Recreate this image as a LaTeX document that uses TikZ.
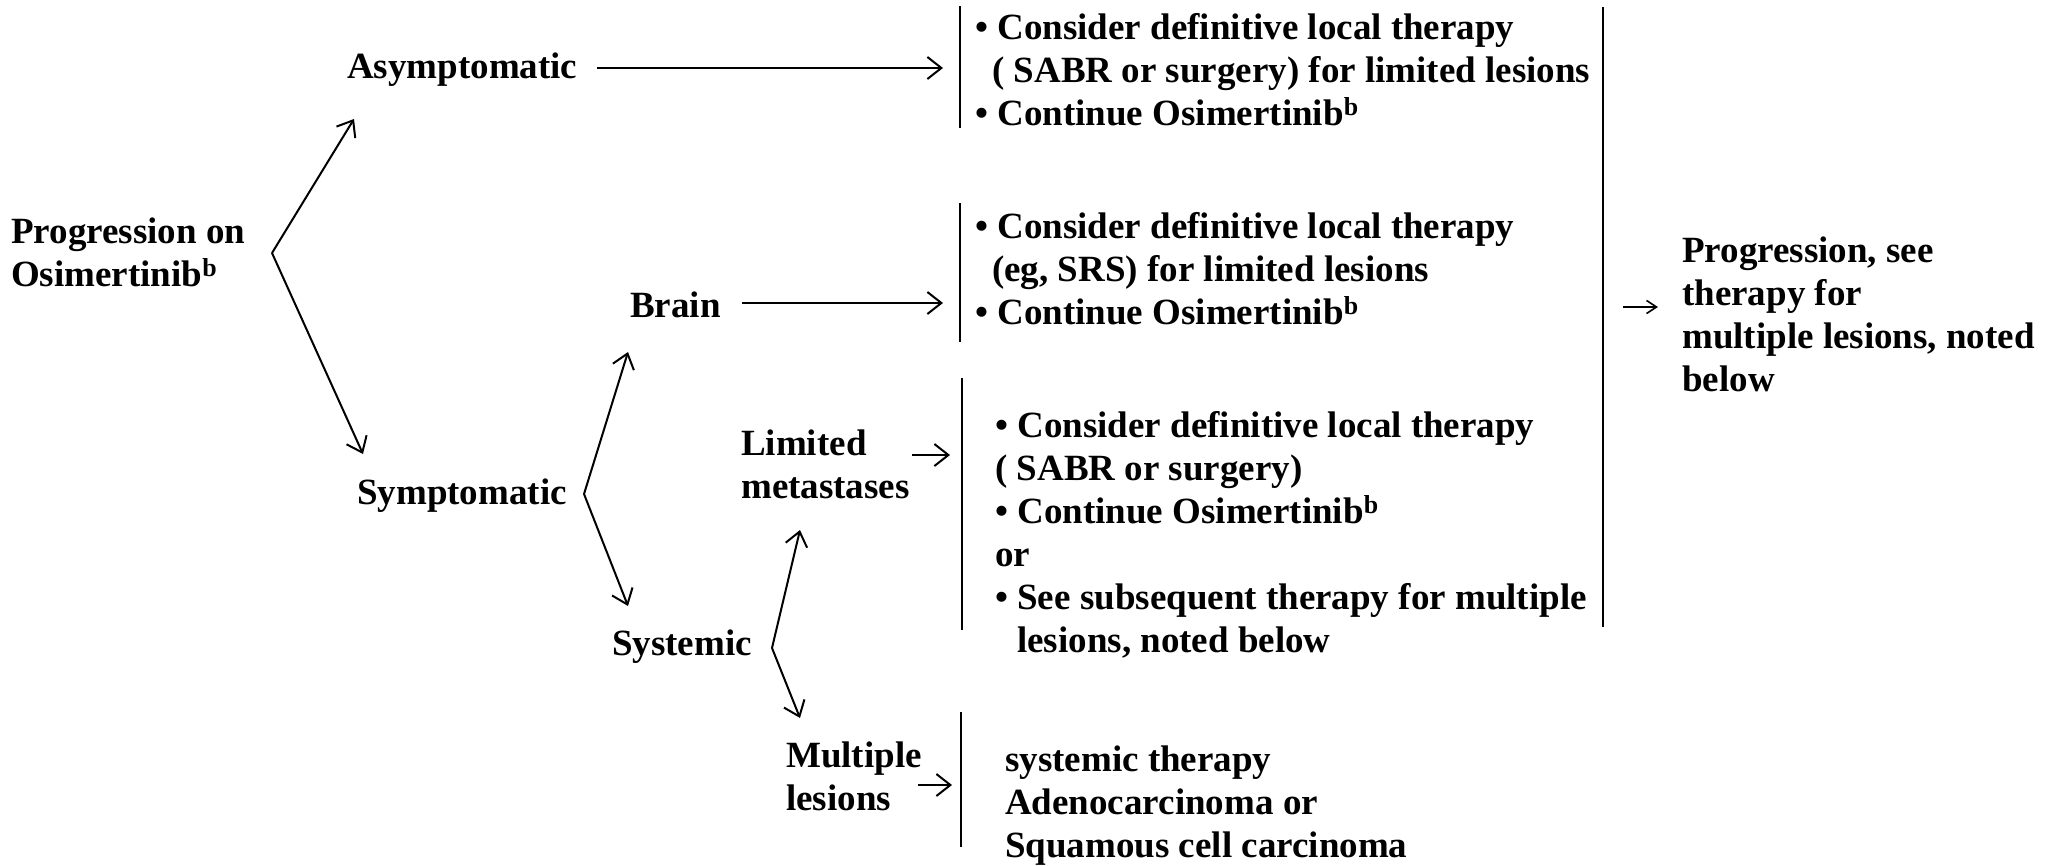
\documentclass[tikz,border=0pt]{standalone}
\usepackage{fontspec}
\setmainfont{Liberation Serif}
\usetikzlibrary{arrows.meta}
\begin{document}
\begin{tikzpicture}[x=1pt,y=-1pt,
  txt/.style={inner sep=0pt, anchor=base west, align=left,
    font=\fontsize{37}{43}\selectfont\bfseries},
  arr/.style={line width=2pt, -{Straight Barb[length=14pt,width=22pt,line width=2pt]}},
  sarr/.style={line width=1.6pt, -{Straight Barb[length=10pt,width=13pt,line width=1.6pt]}},
  bar/.style={line width=1.8pt}]
\useasboundingbox (0,0) rectangle (2058,865);

% decision labels (multi-line nodes are placed by their last baseline)
\node[txt] (prog)  at (11,286)  {Progression on\\Osimertinib\textsuperscript{b}};
\node[txt] (asym)  at (347,78)  {Asymptomatic};
\node[txt] (sympt) at (357,504) {Symptomatic};
\node[txt] (brain) at (630,317) {Brain};
\node[txt] (syst)  at (612,655) {Systemic};
\node[txt] (lim)   at (741,498) {Limited\\metastases};
\node[txt] (mult)  at (786,810) {Multiple\\lesions};

% recommendation blocks
\node[txt] (rec1) at (975,125)
  {• Consider definitive local therapy\\
   \hspace*{17pt}( SABR or surgery) for limited lesions\\
   • Continue Osimertinib\textsuperscript{b}};
\node[txt] (rec2) at (975,324)
  {• Consider definitive local therapy\\
   \hspace*{17pt}(eg, SRS) for limited lesions\\
   • Continue Osimertinib\textsuperscript{b}};
\node[txt] (rec3) at (995,652)
  {• Consider definitive local therapy\\
   ( SABR or surgery)\\
   • Continue Osimertinib\textsuperscript{b}\\
   or\\
   • See subsequent therapy for multiple\\
   \hspace*{22pt}lesions, noted below};
\node[txt] (rec4) at (1005,857)
  {systemic therapy\\
   Adenocarcinoma or\\
   Squamous cell carcinoma};
\node[txt] (next) at (1682,391)
  {Progression, see\\
   therapy for\\
   multiple lesions, noted\\
   below};

% brackets in front of the recommendation blocks
\draw[bar] (960,6)    -- (960,128);
\draw[bar] (960,203)  -- (960,342);
\draw[bar] (962,378)  -- (962,630);
\draw[bar] (961,712)  -- (961,847);
\draw[bar] (1603,7)   -- (1603,627);

% branch points and arrow ends
\coordinate (pv) at (272,253);
\coordinate (asymtip) at (354,119);
\coordinate (symtip) at (363,454);
\coordinate (sv) at (584,494);
\coordinate (braintip) at (628,352);
\coordinate (systip) at (628,606);
\coordinate (yv) at (772,648);
\coordinate (limtip) at (800,530);
\coordinate (multtip) at (800,718);

\draw[arr] (pv) -- (asymtip);
\draw[arr] (pv) -- (symtip);
\draw[arr] (sv) -- (braintip);
\draw[arr] (sv) -- (systip);
\draw[arr] (yv) -- (limtip);
\draw[arr] (yv) -- (multtip);

% horizontal arrows into the blocks
\coordinate (a1s) at (597,68);   \coordinate (a1e) at (943,68);
\coordinate (a2s) at (742,303);  \coordinate (a2e) at (943,303);
\coordinate (a3s) at (912,455);  \coordinate (a3e) at (950,455);
\coordinate (a4s) at (918,785);  \coordinate (a4e) at (952,785);
\coordinate (a5s) at (1623,307); \coordinate (a5e) at (1658,307);
\draw[arr] (a1s) -- (a1e);
\draw[arr] (a2s) -- (a2e);
\draw[arr] (a3s) -- (a3e);
\draw[arr] (a4s) -- (a4e);
\draw[sarr] (a5s) -- (a5e);
\end{tikzpicture}
\end{document}
